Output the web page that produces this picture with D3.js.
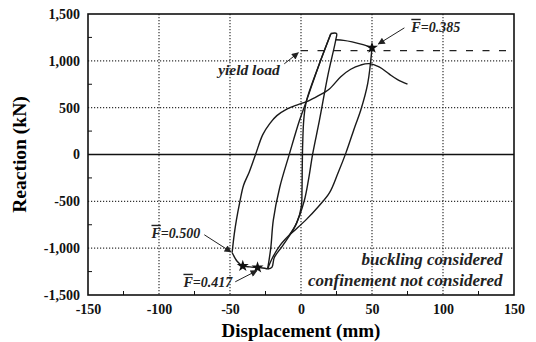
<!DOCTYPE html>
<html>
<head>
<meta charset="utf-8">
<script src="https://cdn.jsdelivr.net/npm/d3@7"></script>
<style>
  body { margin: 0; background: #fff; }
  text { font-family: "Liberation Serif", "Times New Roman", serif; }
  .tick text { font-weight: bold; font-size: 14px; fill: #111; }
  .note { font-weight: bold; font-style: italic; fill: #222; }
</style>
</head>
<body>
<div id="chart"></div>
<script>
// ---------------------------------------------------------------
//   hysteresis : reaction vs displacement
// ---------------------------------------------------------------

// tick values
var xTicks = [-150, -100, -50, 0, 50, 100, 150]
var yTicks = [-1500, -1000, -500, 0, 500, 1000, 1500]
var xMinor = [-125, -75, -25, 25, 75, 125]
var yMinor = [-1250, -750, -250, 250, 750, 1250]

var yieldLoad = 1110

// branches of the loop, [displacement mm, reaction kN]
var loadUp = [[-8.2,-860],[-3,-730],[0.2,-560],[0.7,-380],[0.9,-120],[1.2,120],[2,380],[3.8,570],[12,930],[21,1290]]
var unloadLeft = [[21,1290],[12,930],[3.8,570],[-1.2,358],[-8.2,4],[-15,-352],[-19.5,-700],[-21.3,-1000],[-23.5,-1222]]
var reloadRight = [[-23.5,-1222],[-20.5,-1205],[-18.8,-1100],[-13,-975],[-4,-760],[2.3,-494],[5.5,-250],[8.2,4],[12.9,358],[19,850],[24.5,1225],[25,1292],[21,1292]]
var plateau = [[24.5,1225],[30,1218],[36,1202],[43,1175],[50,1140]]
var unload50 = [[50,1140],[47,760],[42,470],[38,300],[31.7,20],[26,-200],[20,-410],[12,-560],[4,-690],[-3,-790],[-8.2,-860],[-15,-975],[-20,-1100],[-23.5,-1222]]
var bottomArc = [[-23.5,-1222],[-27,-1212],[-30.6,-1206],[-36,-1200],[-41,-1190],[-45,-1140],[-48.5,-1046]]
var reload75 = [[-48.5,-1046],[-47,-850],[-45.5,-700],[-43,-500],[-40.5,-330],[-36.5,-190],[-32,0],[-27,210],[-22,330],[-17,415],[-10,485],[-3,528],[5,570],[12,625],[20,700],[28,830],[35,910],[42,955],[48,970],[55,935],[62,860],[68,800],[75,752]]

var branches = [loadUp, unloadLeft, reloadRight, plateau, unload50, bottomArc, reload75]

// star markers (F-bar points)
var markers = [[50,1140],[-30.6,-1206],[-41,-1190]]

// annotations, all in data units
var notes = [
  {text: 'yield load', x: -15, y: 850, anchor: 'end', size: 15.5, bar: false, from: [-11.8,968], to: [-1.9,1086]},
  {text: '=0.385', x: 77.7, y: 1310, anchor: 'start', size: 14, bar: true, from: [72.8,1352], to: [54.5,1180]},
  {text: '=0.500', x: -70.9, y: -889, anchor: 'end', size: 14, bar: true, from: [-68.1,-857], to: [-49.3,-1040]},
  {text: '=0.417', x: -48.4, y: -1412, anchor: 'end', size: 14, bar: true, from: [-46.3,-1359], to: [-31,-1240]},
  {text: 'buckling considered', x: 142, y: -1178, anchor: 'end', size: 17, bar: false},
  {text: 'confinement not considered', x: 142, y: -1402, anchor: 'end', size: 17, bar: false}
]

// sizes
var W = 536, H = 342
var mLeft = 88, mRight = 514, mTop = 14, mBottom = 295

var svg = d3.select('#chart').append('svg')
    .attr('width', W)
    .attr('height', H)

var defs = svg.append('defs')
defs.append('marker')
    .attr('id', 'arrow')
    .attr('viewBox', '0 0 10 10')
    .attr('refX', 9).attr('refY', 5)
    .attr('markerWidth', 9).attr('markerHeight', 7)
    .attr('markerUnits', 'userSpaceOnUse')
    .attr('orient', 'auto')
  .append('path')
    .attr('d', 'M0,0 L10,5 L0,10 Z')
    .attr('fill', '#222')

var x = d3.scaleLinear().domain([-150, 150]).range([mLeft, mRight])
var y = d3.scaleLinear().domain([-1500, 1500]).range([mBottom, mTop])

var fmt = d => d3.format(',')(d).replace('\u2212', '-')

// grid
svg.append('g').selectAll('line').data(xTicks.slice(1, -1)).enter()
  .append('line')
    .attr('x1', d => x(d)).attr('x2', d => x(d))
    .attr('y1', mTop).attr('y2', mBottom)
    .attr('stroke', '#333').attr('stroke-width', 1.2)
    .attr('stroke-dasharray', '1.2,1.8')
svg.append('g').selectAll('line').data(yTicks.slice(1, -1).filter(d => d != 0)).enter()
  .append('line')
    .attr('y1', d => y(d)).attr('y2', d => y(d))
    .attr('x1', mLeft).attr('x2', mRight)
    .attr('stroke', '#333').attr('stroke-width', 1.2)
    .attr('stroke-dasharray', '1.2,1.8')
// zero line
svg.append('line')
    .attr('x1', mLeft).attr('x2', mRight)
    .attr('y1', y(0)).attr('y2', y(0))
    .attr('stroke', '#111').attr('stroke-width', 1.4)

// minor ticks, inward
svg.append('g').selectAll('line').data(yMinor).enter()
  .append('line')
    .attr('x1', mLeft).attr('x2', mLeft + 4)
    .attr('y1', d => y(d)).attr('y2', d => y(d))
    .attr('stroke', '#111')
svg.append('g').selectAll('line').data(xMinor).enter()
  .append('line')
    .attr('x1', d => x(d)).attr('x2', d => x(d))
    .attr('y1', mBottom).attr('y2', mBottom - 4)
    .attr('stroke', '#111')

// axes
var xAxis = svg.append('g')
    .attr('transform', `translate(0,${mBottom})`)
    .call(d3.axisBottom(x).tickValues(xTicks).tickFormat(fmt).tickSize(0).tickPadding(9))
var yAxis = svg.append('g')
    .attr('transform', `translate(${mLeft},0)`)
    .call(d3.axisLeft(y).tickValues(yTicks).tickFormat(fmt).tickSize(0).tickPadding(8))
xAxis.select('.domain').remove()
yAxis.select('.domain').remove()

// frame
svg.append('rect')
    .attr('x', mLeft).attr('y', mTop)
    .attr('width', mRight - mLeft).attr('height', mBottom - mTop)
    .attr('fill', 'none').attr('stroke', '#111').attr('stroke-width', 1.6)

// yield load
svg.append('line')
    .attr('x1', x(0)).attr('x2', x(150))
    .attr('y1', y(yieldLoad)).attr('y2', y(yieldLoad))
    .attr('stroke', '#222').attr('stroke-width', 1.2)
    .attr('stroke-dasharray', '7,9.5')

// loop branches
var line = d3.line()
    .x(d => x(d[0]))
    .y(d => y(d[1]))
    .curve(d3.curveCatmullRom.alpha(0.5))

svg.append('g').selectAll('path').data(branches).enter()
  .append('path')
    .attr('d', line)
    .attr('fill', 'none')
    .attr('stroke', '#1a1a1a')
    .attr('stroke-width', 1.4)

svg.append('g').selectAll('path').data(markers).enter()
  .append('path')
    .attr('transform', d => `translate(${x(d[0])},${y(d[1])})`)
    .attr('d', d3.symbol().type(d3.symbolStar).size(45))
    .attr('fill', '#111')

// annotations
var g = svg.append('g')
notes.forEach(function(n) {
    var t = g.append('text')
        .attr('class', 'note')
        .attr('x', x(n.x)).attr('y', y(n.y))
        .attr('text-anchor', n.anchor)
        .style('font-size', n.size + 'px')
    if (n.bar) {
        t.append('tspan').text('F').style('text-decoration', 'overline')
    }
    t.append('tspan').text(n.text)
    if (n.from) {
        g.append('line')
            .attr('x1', x(n.from[0])).attr('y1', y(n.from[1]))
            .attr('x2', x(n.to[0])).attr('y2', y(n.to[1]))
            .attr('stroke', '#222').attr('stroke-width', 1)
            .attr('marker-end', 'url(#arrow)')
    }
})

// axis titles
svg.append('text')
    .attr('x', 301).attr('y', 337)
    .attr('text-anchor', 'middle')
    .style('font-size', '19px').style('font-weight', 'bold')
    .text('Displacement (mm)')
svg.append('text')
    .attr('transform', `translate(26,${(mTop + mBottom) / 2}) rotate(-90)`)
    .attr('text-anchor', 'middle')
    .style('font-size', '19.5px').style('font-weight', 'bold')
    .text('Reaction (kN)')
</script>
</body>
</html>
